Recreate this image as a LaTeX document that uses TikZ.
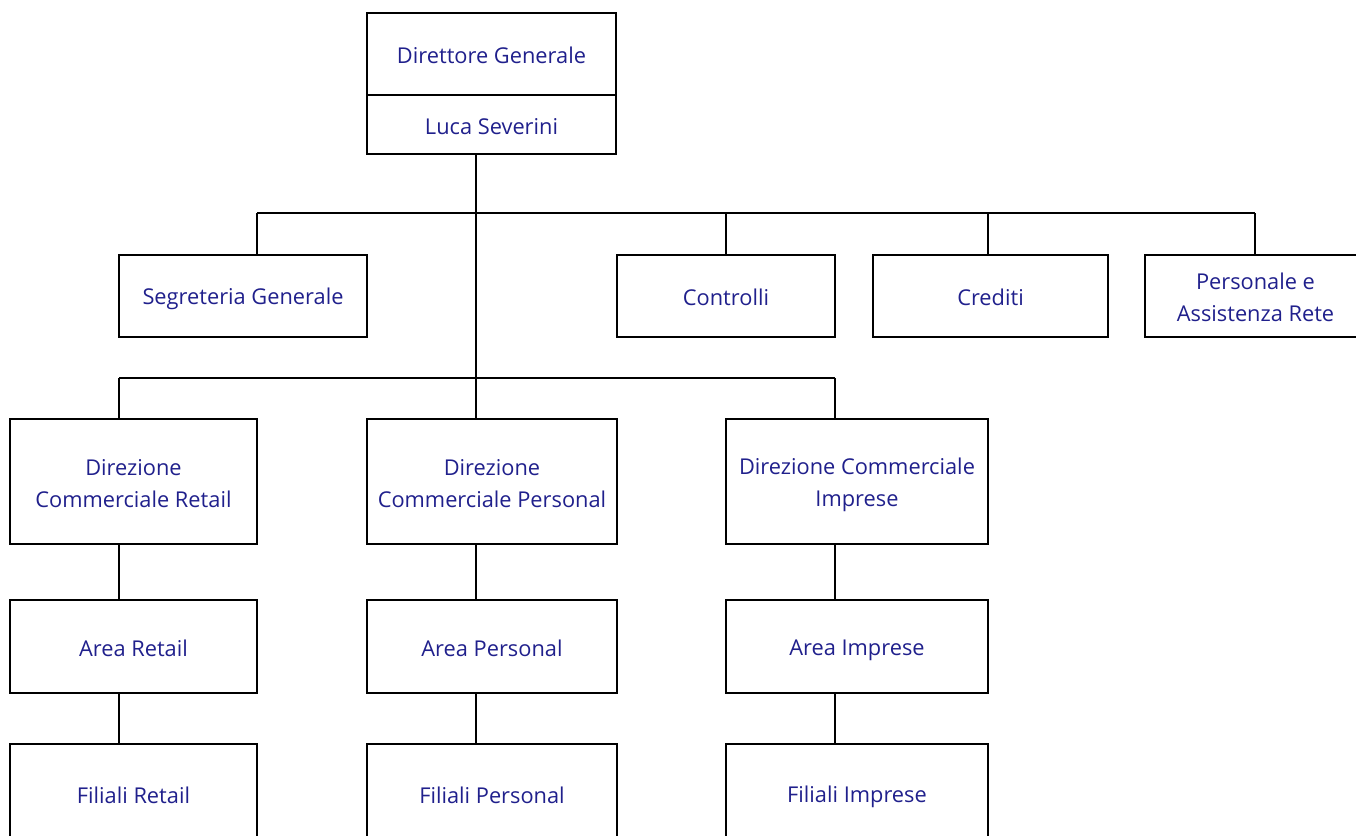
\documentclass[tikz,border=0pt]{standalone}
\usepackage{fontspec}
\setmainfont{Open Sans}
\definecolor{txtblue}{RGB}{32,32,140}
\newcommand{\mystrut}{\rule[-4pt]{0pt}{27pt}}
\tikzset{
  orgbox/.style={draw=black, line width=2.2pt, inner sep=0pt, outer sep=0pt, text=txtblue, align=center,
    font=\fontsize{21.8}{32}\selectfont},
  conn/.style={draw=black, line width=2.2pt}
}
\begin{document}
\begin{tikzpicture}[x=1pt,y=-1pt]
\useasboundingbox (0,0) rectangle (1356,835);
\clip (0,0) rectangle (1356,835);
% top
\node[orgbox, minimum width=249pt, minimum height=82pt] (dg) at (491.5,54) {\mystrut Direttore Generale};
\node[orgbox, minimum width=249pt, minimum height=59pt] (ls) at (491.5,124.5) {\mystrut Luca Severini};
% row 1
\node[orgbox, minimum width=248pt, minimum height=82pt] (seg) at (243,296) {\mystrut Segreteria Generale};
\node[orgbox, minimum width=218pt, minimum height=82pt] (ctl) at (726,296) {\mystrut Controlli};
\node[orgbox, minimum width=235pt, minimum height=82pt] (cre) at (990.5,296) {\mystrut Crediti};
\node[orgbox, minimum width=221pt, minimum height=82pt] (per) at (1255.5,296) {\mystrut Personale e\\\mystrut Assistenza Rete};
% row 2
\node[orgbox, minimum width=247pt, minimum height=125pt] (dr) at (133.5,481.5) {\mystrut Direzione\\\mystrut Commerciale Retail};
\node[orgbox, minimum width=250pt, minimum height=125pt] (dp) at (492,481.5) {\mystrut Direzione\\\mystrut Commerciale Personal};
\node[orgbox, minimum width=262pt, minimum height=125pt] (di) at (857,481.5) {\mystrut Direzione Commerciale\\\mystrut Imprese};
% row 3
\node[orgbox, minimum width=247pt, minimum height=93pt] (ar) at (133.5,646.5) {\mystrut Area Retail};
\node[orgbox, minimum width=250pt, minimum height=93pt] (ap) at (492,646.5) {\mystrut Area Personal};
\node[orgbox, minimum width=262pt, minimum height=93pt] (ai) at (857,646.5) {\mystrut Area Imprese};
% row 4
\node[orgbox, minimum width=247pt, minimum height=99pt] (fr) at (133.5,793.5) {\mystrut Filiali Retail};
\node[orgbox, minimum width=250pt, minimum height=99pt] (fp) at (492,793.5) {\mystrut Filiali Personal};
\node[orgbox, minimum width=262pt, minimum height=99pt] (fi) at (857,793.5) {\mystrut Filiali Imprese};
% bus coordinates
\coordinate (b1L) at (257,213);
\coordinate (b1A) at (726,213);
\coordinate (b1B) at (988,213);
\coordinate (b1R) at (1255,213);
\coordinate (c1) at (119,378);
\coordinate (c2) at (476,378);
\coordinate (c3) at (835,378);
% connectors
\draw[conn] (ls.south -| c2) -- (c2);
\draw[conn] (b1L) -- (b1R);
\draw[conn] (b1L) -- (b1L |- seg.north);
\draw[conn] (b1A) -- (b1A |- ctl.north);
\draw[conn] (b1B) -- (b1B |- cre.north);
\draw[conn] (b1R) -- (b1R |- per.north);
\draw[conn] (c1) -- (c3);
\draw[conn] (c1) -- (c1 |- dr.north);
\draw[conn] (c3) -- (c3 |- di.north);
\draw[conn] (c2) -- (c2 |- dp.north);
\draw[conn] (c1 |- dr.south) -- (c1 |- ar.north);
\draw[conn] (c2 |- dp.south) -- (c2 |- ap.north);
\draw[conn] (c3 |- di.south) -- (c3 |- ai.north);
\draw[conn] (c1 |- ar.south) -- (c1 |- fr.north);
\draw[conn] (c2 |- ap.south) -- (c2 |- fp.north);
\draw[conn] (c3 |- ai.south) -- (c3 |- fi.north);
\end{tikzpicture}
\end{document}
